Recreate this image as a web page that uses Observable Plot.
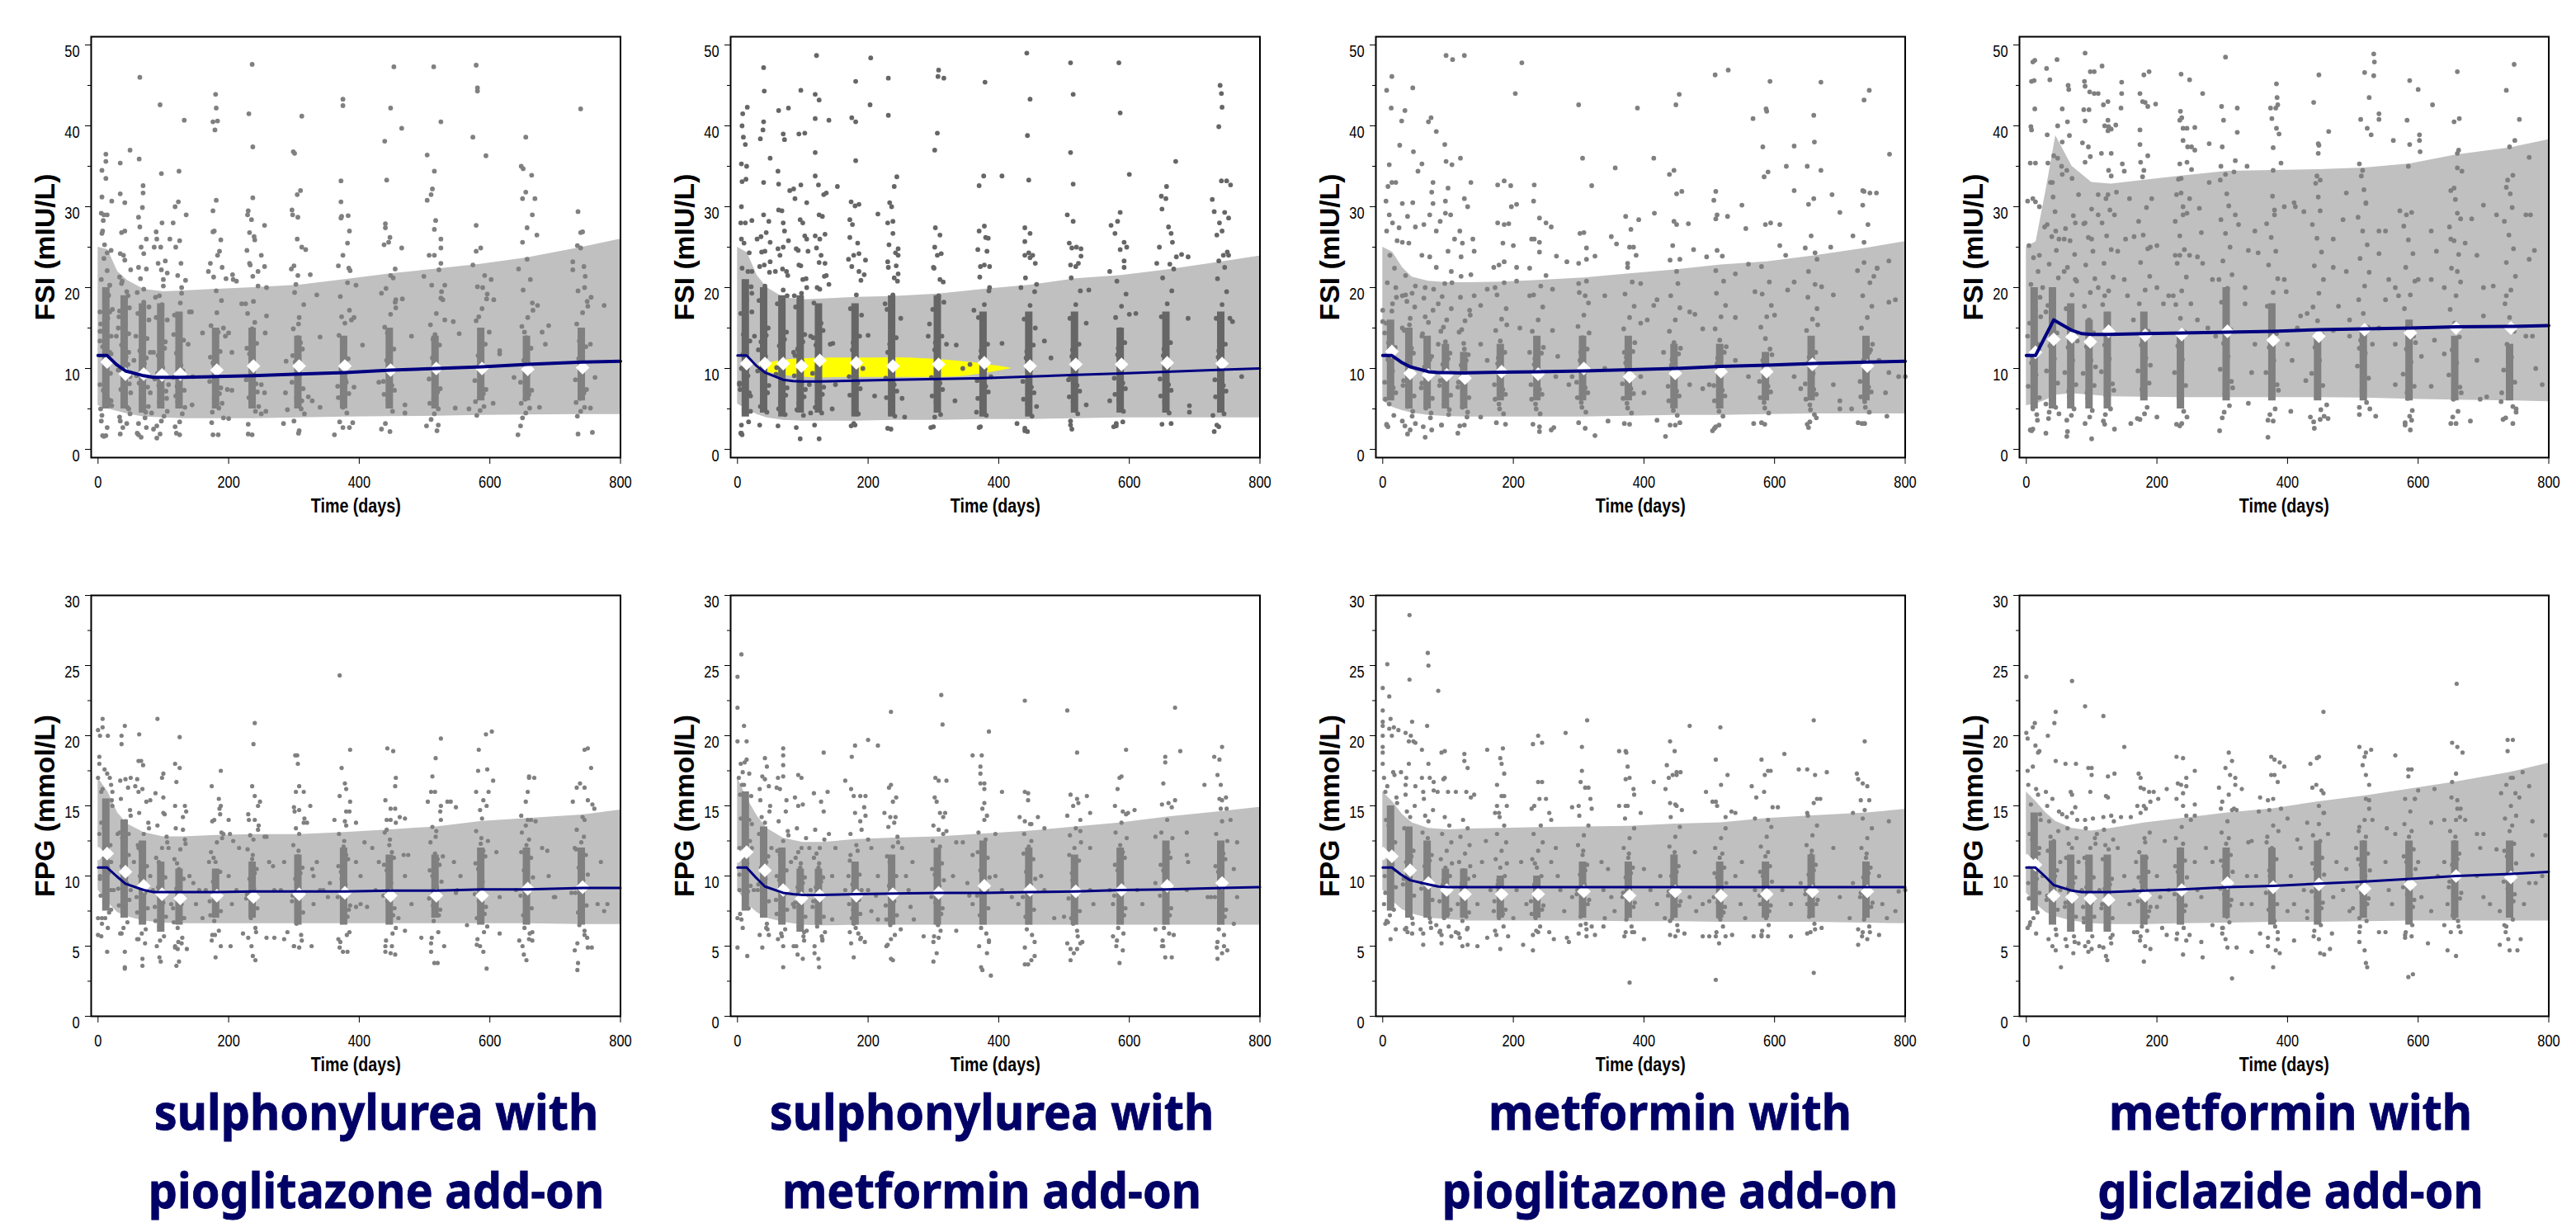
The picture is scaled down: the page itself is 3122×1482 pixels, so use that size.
<!doctype html>
<html><head><meta charset="utf-8">
<script src="https://cdn.jsdelivr.net/npm/d3@7"></script>
<script src="https://cdn.jsdelivr.net/npm/@observablehq/plot@0.6"></script>
<style>
html,body{margin:0;background:#fff;width:3122px;height:1482px;overflow:hidden}
#c{position:relative;width:3122px;height:1482px}
#c svg{position:absolute;overflow:visible}
.t{position:absolute;font:700 60px "Noto Sans";color:#000066;-webkit-text-stroke:.8px #000066;transform:translateX(-50%) scaleX(.93);white-space:nowrap;line-height:1}
</style></head><body><div id="c"></div>
<script>
const xTicks=[0,200,400,600,800];
const visits=[14,42,70,98,126,182,238,308,378,448,518,588,658,742];
const visitsBase=[1,14,42,70,98,126,182,238,308,378,448,518,588,658,742];
const bandX=[0,15,30,45,70,100,130,182,238,308,378,448,518,588,658,742,800];
const lineX=[0,14,28,42,70,85,100,126,182,238,308,378,448,518,588,658,742,800];
const spreadDays=[-6,5,-2,8,-9,3,-4,7,0,-7,2,9,-5,6,-1,-8,4,1,-3,10];
const titles=[["sulphonylurea with","pioglitazone add-on",456],["sulphonylurea with","metformin add-on",1202],["metformin with","pioglitazone add-on",2024],["metformin with","gliclazide add-on",2776]];

const fsi1Up=[25,24.7,22,20.9,19.8,19.5,19.6,19.8,20,20.3,21,21.7,22.3,22.9,23.7,25,26];
const fsi1Lo=[5.4,5,4.7,4.4,4,3.9,3.8,3.8,3.8,3.9,4,4.05,4.1,4.2,4.25,4.3,4.3];
const fsi2Up=[25,24.3,21.5,20,18.8,18.5,18.6,18.8,18.9,19.2,19.8,20.3,21.1,21.5,22.2,23.2,23.9];
const fsi2Lo=[5.6,4.9,4.3,3.9,3.6,3.5,3.5,3.5,3.6,3.6,3.7,3.7,3.8,3.9,3.9,3.9,3.9];
const fsi3Up=[25,24.4,22.5,21.3,20.8,20.6,20.6,20.7,20.9,21.2,21.7,22.2,22.8,23.2,23.9,24.9,25.7];
const fsi3Lo=[6,5.2,4.8,4.5,4.2,4.05,4,4,4,4,4.1,4.2,4.2,4.3,4.4,4.4,4.4];
const fsi4Up=[25,25.7,32,38.8,35,33,32.8,33.3,33.8,34.4,34.5,34.6,34.8,35.3,36.4,37.3,38.3];
const fsi4Lo=[5.4,5.6,6.1,6.7,6.9,6.7,6.5,6.45,6.4,6.4,6.4,6.4,6.35,6.2,6.1,6,5.9];
const fpg1Up=[17,16,14.5,13.7,13.1,12.8,12.8,12.9,12.95,12.95,13.1,13.3,13.5,13.9,14.1,14.35,14.7];
const fpg1Lo=[9,8.1,7.4,7.1,6.8,6.65,6.6,6.6,6.6,6.6,6.6,6.6,6.6,6.6,6.6,6.55,6.55];
const fpg2Up=[17,15.5,14.3,13.4,12.7,12.4,12.4,12.6,12.7,12.8,13,13.2,13.5,13.8,14.2,14.6,14.9];
const fpg2Lo=[9,8,7.4,7,6.7,6.5,6.45,6.5,6.5,6.5,6.5,6.5,6.5,6.5,6.5,6.5,6.5];
const fpg3Up=[16,15.3,14.4,13.8,13.4,13.3,13.35,13.4,13.45,13.5,13.55,13.7,13.8,14.1,14.3,14.5,14.75];
const fpg3Lo=[9,8.2,7.6,7.3,7,6.9,6.8,6.8,6.8,6.8,6.75,6.75,6.7,6.7,6.7,6.65,6.6];
const fpg4Up=[16,15.3,14.5,13.9,13.4,13.2,13.4,13.8,14.1,14.5,14.8,15.3,15.7,16.2,16.7,17.4,18.05];
const fpg4Lo=[8.8,8,7.4,7.1,6.8,6.6,6.55,6.55,6.6,6.65,6.7,6.7,6.75,6.8,6.8,6.8,6.8];

const fsi1Line=[11.6,11.6,10.5,9.7,9.1,8.9,8.9,8.9,9,9.1,9.3,9.5,9.8,10,10.2,10.5,10.8,10.9];
const fsi2Line=[11.6,11.6,10.4,9.5,8.6,8.45,8.4,8.4,8.5,8.6,8.7,8.8,9,9.2,9.4,9.6,9.85,10];
const fsi3Line=[11.6,11.6,10.8,10.2,9.6,9.5,9.5,9.45,9.55,9.6,9.7,9.85,10,10.25,10.4,10.6,10.8,10.9];
const fsi4Line=[11.6,11.6,13.8,16,14.7,14.3,14.2,14.2,14.3,14.4,14.5,14.6,14.8,14.9,15,15.15,15.2,15.3];
const fpg1Line=[10.6,10.6,10,9.45,9,8.85,8.85,8.85,8.85,8.9,8.9,8.9,8.95,8.95,9.05,9.05,9.15,9.15];
const fpg2Line=[10.6,10.6,9.9,9.25,8.8,8.7,8.65,8.65,8.7,8.75,8.8,8.8,8.85,8.9,9,9.05,9.15,9.2];
const fpg3Line=[10.6,10.6,10.1,9.7,9.4,9.25,9.2,9.2,9.2,9.2,9.2,9.2,9.2,9.2,9.2,9.2,9.2,9.2];
const fpg4Line=[10.6,10.6,10,9.35,8.95,8.85,8.85,8.85,8.95,9.05,9.2,9.3,9.45,9.6,9.8,10,10.15,10.3];

const fsi1Mean=[10.8,9.3,9.3,9.2,9.3,9.8,10.3,10.3,10.3,9.8,10,10,9.9,10.1];
const fsi2Mean=[10.6,10.6,10.6,10.3,11,10.7,10.3,10.5,10.7,10.3,10.5,10.5,10.7,10.6];
const fsi3Mean=[12.1,9.4,9.2,9.2,8.8,9.6,9.3,10,9,9.4,9.6,9.6,10.5,10.3];
const fsi4Mean=[12,13.6,13.9,13.3,14.6,14.1,14.2,14.6,13.5,14,14.8,14.4,15,15];
const fpg1Mean=[11.6,11.6,10.3,9.3,8.7,8.4,8.6,8.5,8.7,8.8,8.6,8.6,8.6,9.1,9.2];
const fpg2Mean=[11.4,11.7,10.4,9,8.4,8.6,8.6,8.7,8.8,9.3,9,8.9,9,9.3,9.5];
const fpg3Mean=[11.6,11.4,10.4,9.5,9,8.7,8.7,8.7,8.9,8.6,8.9,8.6,8.7,8.9,8.9];
const fpg4Mean=[11.1,10.8,8.6,8.5,8.4,8.3,8.6,9,9.5,9.2,9.4,9.1,9.4,10,9.9];

const fsi1Core=[[5,20],[5,19],[4.5,18],[5,18],[5,17],[5,15],[5,15],[5,14],[5,14],[5,15],[5,14],[6,15],[6,14],[6,15]];
const fsi2Core=[[4,21],[4.5,20],[4,19],[4.5,19],[4.5,18],[4,18],[4,19],[4.5,19],[4,17],[4,17],[4.5,17],[4.5,15],[4.5,17],[4.5,17]];
const fsi3Core=[[6,16],[5,15],[5,14],[5,13],[5,12],[6,13],[6,14],[6,14],[6,14],[5,13],[5,13],[6,12],[6,14],[6,14]];
const fsi4Core=[[5,20],[5,20],[5,18],[5,16],[5,17],[6,17],[5,14],[6,20],[6,18],[6,14],[6,15],[6,16],[6,14],[6,13]];
const fpg1Core=[[7.5,15.5],[7,14],[6.5,12.5],[6,11],[6.5,10.5],[7,10.5],[7,11],[6.5,11.5],[6.5,12],[6.5,11.5],[7,11.5],[6.5,12],[6.5,12],[6.5,12]];
const fpg2Core=[[7.5,16],[7,13.5],[6.5,12],[6,10.5],[6.5,10.5],[6.5,11],[6.5,11.5],[6.5,12],[6.5,12.5],[6.5,12],[6.5,11.5],[6.5,12],[6.5,12.5],[6.5,12.5]];
const fpg3Core=[[7.5,15],[7,13.5],[7,12.5],[7,10.5],[7,10.5],[7,10],[7,10],[7,11],[7,11],[7,11.5],[7,11],[7,11],[7,11.5],[7,11]];
const fpg4Core=[[7.5,14.5],[6.5,12.5],[6,11.5],[6,11.5],[6,11.5],[6.5,11.5],[6.5,12],[7,12],[6.5,12],[6.5,12.5],[7,12.5],[6.5,12.5],[7,12.5],[7,12.5]];

const fsi1Dense=[
[4.2,6.1,8.3,11.8,13.4,16.2,7.3,9.4,18.5,14.6,22.1,5.4,12.7,20.3,10.2,15.5,19.1,6.8,23.6,17.3],
[3.5,5.2,6.6,8.1,9.8,11.4,12.9,14.3,15.8,17.1,18.6,4.4,7.4,10.5,13.1,16.4,19.5,6.2,20.8,22.2],
[3.2,4.6,6.3,7.7,9.1,10.6,12.2,13.7,15.2,16.8,18.2,5.3,8.2,11.3,14.6,19.4,3.9,6.9,21.1,17.6],
[2.9,4.1,5.8,7.2,8.7,10.1,11.6,13.3,14.7,16.3,17.9,6.3,9.4,12.5,15.6,18.8,20.2,3.5,7.9,21.8],
[2.8,4.4,5.9,7.3,8.9,10.4,11.9,13.5,15.1,16.6,18.1,5.2,6.6,9.7,12.8,14.2,19.3,3.4,7.8,20.9],
[3.3,5.1,6.3,7.6,8.4,9.3,10.7,12.1,13.6,15.3,16.9,18.4,4.6,6.9,8,11.4,14.5,19.6,21.3,5.7],
[3.1,4.7,5.9,7.1,8.6,10.1,11.8,13.1,14.9,16.8,18.3,20.2,6.4,8.1,9.4,12.5,15.7,21.4,22.8,5.3],
[3.5,5,6.4,7.5,8.3,9.2,10.8,12.4,13.8,14.9,16.3,17.9,19.4,6,7.1,11.6,13.2,15.5,20.4,4.4],
[3.4,4.5,5.8,6.9,7.8,8.6,9.9,11.2,12.7,14.1,15.6,17.2,18.9,20.6,5.2,6.4,8.3,13.3,16.4,22.1],
[3.2,4.7,6.1,7.3,8.4,9.5,11,12.4,13.7,15.1,16.7,18.2,19.9,21.2,5.4,6.8,7.9,10.3,14.4,17.5],
[3.7,5,6.2,7.5,8.7,9.8,11.3,12.9,14.2,15.4,16.8,18.7,20.3,22.2,4.4,5.7,7.1,10.6,13.6,19.5],
[4.2,5.3,6.4,7.4,8.5,9.9,11.6,13,14.4,15.9,17.4,18.6,20.1,21.5,4.8,5.9,6.9,12.2,16.4,19.2],
[3.9,5.1,6.2,7.3,8.3,9.4,11,12.5,13.8,15.2,16.3,18.1,19.7,21,4.5,5.7,6.8,10.2,14.5,17.2],
[4.1,5.2,6.3,7.4,8.6,9.8,11.2,12.7,14.1,15.5,16.9,18.3,19.6,21.4,4.7,5.8,7,10.5,13.4,17.7]];
const fsi2Dense=[
[2,3.4,4.9,6.6,8.2,10,11.7,13.4,15,16.8,18.5,20.1,22.4,24.3,5.6,7.4,9.1,12.5,14.2,19.3],
[3,4.6,6.2,7.9,9.7,11.5,13.3,15,16.7,18.4,20.2,21.9,5.3,7,8.8,12.3,14.1,22.8,24.4,25.6],
[2.9,4.3,5.9,7.6,9.3,11,12.8,14.5,16.3,18,19.7,21.5,5,6.7,8.5,10.1,13.6,22.3,24,25.8],
[2.7,4.2,5.7,7.4,9.1,10.8,12.4,14.2,15.9,17.6,19.3,21.1,4.9,6.5,8.2,11.6,13.3,22.7,24.6,26],
[3,4.5,6,7.7,9.4,11.1,12.9,14.7,16.4,18.1,19.8,21.4,5.2,6.8,8.6,13.8,15.6,23.1,24.9,26.6],
[2.9,4.4,5.9,7.5,9,10.6,12.3,14,15.7,17.4,19.1,20.9,22.6,24.2,5.1,6.7,8.2,11.5,13.2,16.6],
[2.6,4.1,5.6,7.2,8.8,10.4,12,13.8,15.6,17.3,19.1,20.8,22.5,24.3,4.9,6.4,8,11.2,13,21.7],
[2.8,4.3,5.9,7.4,8.9,10.6,12.3,14,15.7,17.3,19,20.7,22.4,24.2,5,6.6,8.2,11.5,13.2,18.2],
[2.7,4.2,5.7,7.1,8.5,9.9,11.4,13,14.6,16.3,17.9,19.6,21.3,24.5,4.9,6.3,7.8,10.7,12.2,22.6],
[2.6,4.1,5.6,7,8.4,9.8,11.3,12.9,14.5,16.1,17.8,19.5,21.2,24,4.8,6.2,7.7,10.6,12.1,23],
[3,4.4,5.9,7.2,8.6,10,11.5,13,14.6,16.2,17.9,19.6,21.2,23,5.1,6.5,7.9,10.8,12.3,24.8],
[3.2,4.7,6.1,7.5,8.8,10.2,11.7,13.2,14.8,16.3,17.7,19.2,20.8,23.3,5.4,6.8,8.2,11,12.5,25],
[3.1,4.5,5.9,7.3,8.7,10.1,11.6,13.2,14.8,16.4,18,19.6,21.2,22.9,5.2,6.6,8,10.9,12.4,25.6],
[3,4.4,5.8,7.2,8.6,10,11.4,13,14.6,16.2,17.9,19.5,21.1,22.5,5.1,6.5,7.9,10.7,12.2,24.4]];
const fsi3Dense=[
[3.1,4.2,5.6,7,8.3,9.7,11.1,12.6,14,15.6,17.1,18.8,20.6,22.4,24,6.2,7.6,10.4,13.2,25.8],
[2.9,4.1,5.3,6.6,7.9,9.1,10.5,11.9,13.3,14.7,16.2,17.6,19.1,4.7,6,8.5,12.5,15.4,18.3,20.2],
[2.8,3.9,5.1,6.3,7.6,8.9,10.2,11.5,12.9,14.3,15.7,17.2,18.7,4.5,5.7,8.2,11.1,13.6,16.4,19.8],
[3,4.3,5.5,6.7,7.9,9.2,10.5,11.9,13.3,14.6,16,17.4,18.9,4.9,6.1,8.5,11.2,12.6,15.1,20.6],
[2.9,4,5.2,6.4,7.7,9,10.4,11.7,13.1,14.5,15.9,17.2,18.8,4.6,5.8,8.3,11,12.4,14.8,16.6],
[3.3,4.4,5.6,6.8,8,9.3,10.6,12,13.4,14.7,16.1,17.4,19.1,20.6,5,6.2,7.4,8.7,11.3,15.4],
[3.1,4.4,5.6,6.8,8,9.2,10.5,11.9,13.3,14.6,16,17.6,19.1,20.2,5,6.2,7.4,8.6,11.2,12.6],
[3.3,4.6,5.8,7,8.3,9.6,11,12.4,13.8,15.2,16.6,18.1,19.4,20.8,5.2,6.4,7.6,8.9,12,14.4],
[3.2,4.5,5.7,6.9,8.1,9.4,10.7,12.1,13.5,14.9,16.3,17.7,19.2,20.7,5.1,6.3,7.5,8.7,11.4,13.2],
[3,4.2,5.4,6.6,7.8,9,10.4,11.8,13.2,14.6,16,17.5,19,20.5,4.8,6,7.2,8.4,11.1,12.5],
[2.8,4.1,5.3,6.6,7.9,9.2,10.6,12,13.5,14.9,16.4,17.8,19.3,20.8,4.7,6,7.3,8.6,11.3,12.7],
[3.3,4.5,5.8,7.1,8.4,9.7,11,12.4,13.7,15.1,16.4,17.8,19.2,20.7,5.1,6.4,7.8,9,10.3,11.7],
[3.1,4.3,5.5,6.8,8.1,9.4,10.7,12,13.4,14.7,16.1,17.4,18.8,20.4,4.9,6.2,7.4,8.7,11.4,15.4],
[3.2,4.6,5.9,7.1,8.4,9.7,11,12.3,13.6,15,16.3,17.7,19,20.6,5.2,6.5,7.7,9,10.4,13]];
const fsi4Dense=[
[2.4,3.6,5,6.4,7.8,9.2,10.7,12.3,14,15.6,17.2,18.8,20.4,22,23.7,25.2,4.3,8.5,11.5,16.4],
[3.8,5.2,6.7,8.2,9.7,11.2,12.8,14.4,16.1,17.8,19.5,21.2,22.9,24.6,26.3,27.8,29.4,31.2,33,4.4],
[3.6,5,6.5,8,9.5,11,12.6,14.2,15.8,17.4,19.1,20.8,22.5,24.1,25.8,27.3,28.9,4.2,7.2,13.4],
[3.2,4.8,6.3,7.9,9.4,11,12.7,14.4,16,17.7,19.4,21.1,22.8,24.5,26.2,27.9,29.7,4,7,10.2],
[3.5,5,6.6,8.1,9.6,11.2,12.9,14.5,16.2,17.9,19.6,21.3,23,24.7,26.4,28,29.6,31.5,4.3,7.3],
[3.7,5.2,6.7,8.2,9.7,11.3,12.9,14.6,16.3,18,19.7,21.4,23.1,24.8,26.5,28.2,29.9,4.4,7.4,10.4],
[3.1,4.7,6.3,7.9,9.5,11.1,12.8,14.5,16.2,17.9,19.6,21.3,23,24.7,26.4,28.2,30,31.7,33.4,4],
[3.9,5.4,6.9,8.4,9.9,11.5,13.1,14.8,16.5,18.2,19.9,21.6,23.3,25,26.7,28.4,30.1,31.6,4.6,7.6],
[3.6,5,6.5,8,9.5,11,12.6,14.3,16,17.7,19.4,21.1,22.8,24.5,26.2,27.9,29.6,31.3,4.3,7.3],
[3.4,4.9,6.4,7.9,9.4,11,12.6,14.2,15.9,17.6,19.3,21,22.7,24.4,26.1,27.8,29.5,31.2,32.9,4.1],
[4.3,5.8,7.3,8.8,10.3,11.9,13.5,15.1,16.8,18.5,20.2,21.9,23.6,25.3,27,28.7,30.4,32.1,33.8,5],
[3.3,4.8,6.3,7.8,9.3,10.8,12.4,14,15.7,17.4,19.1,20.8,22.5,24.2,25.9,27.6,29.3,4.1,7,13.2],
[3.2,4.7,6.2,7.7,9.2,10.7,12.3,13.9,15.6,17.3,19,20.7,22.4,24.1,25.8,27.5,29.2,30.9,4,7],
[3.9,5.3,6.8,8.3,9.8,11.4,13,14.6,16.3,18,19.7,21.4,23.1,24.8,26.5,28.2,29.9,31.6,33.3,4.6]];
const fpg1Dense=[
[6.6,7.4,8.2,9,9.8,10.6,11.4,12.2,13,13.8,14.6,15.4,16.2,17,7,8.6,10.2,11.8,13.4,15],
[5.9,6.7,7.5,8.3,9.1,9.9,10.7,11.5,12.3,13.1,13.9,14.7,15.5,16.3,6.3,7.9,9.5,11.1,12.7,14.3],
[5.5,6.2,7,7.7,8.5,9.2,10,10.7,11.5,12.2,13,13.8,14.5,15.3,5.9,7.4,8.8,10.4,11.8,13.4],
[5,5.7,6.4,7.1,7.8,8.5,9.2,9.9,10.6,11.3,12,12.8,13.6,14.4,5.4,6.8,8.1,9.6,11,12.4],
[4.9,5.6,6.3,7,7.7,8.4,9.1,9.8,10.5,11.2,11.9,12.6,13.4,14.2,5.3,6.7,8,9.5,10.9,12.3],
[5.4,6.1,6.8,7.5,8.2,8.9,9.6,10.3,11,11.7,12.4,13.1,13.9,14.8,5.8,7.2,8.5,10,11.3,12.7],
[5.6,6.3,7,7.7,8.4,9.1,9.8,10.5,11.2,11.9,12.6,13.3,14,6,7.4,8.7,10.2,11.5,12.9,13.6],
[5,5.8,6.6,7.4,8.2,9,9.8,10.6,11.4,12.2,13,13.8,14.6,5.4,7,8.6,10.2,11.8,13.4,14.1],
[4.9,5.8,6.7,7.6,8.5,9.4,10.3,11.2,12.1,13,13.9,14.6,5.3,7.1,8.9,10.7,11.5,12.5,9.8,7.9],
[5,5.9,6.8,7.7,8.6,9.5,10.4,11.3,12.2,13.1,14,14.8,5.4,7.2,9,10.8,11.7,12.6,8.2,6.3],
[5.2,6,6.8,7.6,8.4,9.2,10,10.8,11.6,12.4,13.2,14,5.6,7.2,8.8,10.4,11.2,12.8,7.9,9.6],
[5.1,6,6.9,7.8,8.7,9.6,10.5,11.4,12.3,13.2,14.1,15,5.5,7.3,9.1,10.9,11.8,12.7,8.2,6.4],
[5,5.9,6.8,7.7,8.6,9.5,10.4,11.3,12.2,13.1,14,5.4,7.2,9,10.8,11.7,12.6,8.1,6.3,9.9],
[5.2,6.1,7,7.9,8.8,9.7,10.6,11.5,12.4,13.3,14.2,5.6,7.4,9.2,11,11.9,12.8,8.3,6.5,10.1]];
const fpg2Dense=[
[6.9,7.7,8.5,9.3,10.1,10.9,11.7,12.5,13.3,14.1,14.9,15.7,16.5,17.3,18.1,7.3,8.9,10.5,12.1,13.7],
[5.8,6.6,7.4,8.2,9,9.8,10.6,11.4,12.2,13,13.8,14.6,15.4,6.2,7.8,9.4,11,12.6,14.2,15],
[5.5,6.2,6.9,7.6,8.3,9,9.7,10.4,11.1,11.8,12.5,13.2,13.9,14.6,5.9,7.3,8.7,10.1,11.5,12.9],
[5,5.7,6.4,7.1,7.8,8.5,9.2,9.9,10.6,11.3,12,12.7,13.4,5.4,6.8,8.1,9.5,10.9,11.7,6.1],
[5,5.7,6.4,7.1,7.8,8.5,9.2,9.9,10.6,11.3,12,12.6,13.3,5.4,6.8,8.2,9.6,10.9,11.6,6],
[5.2,5.9,6.6,7.3,8,8.7,9.4,10.1,10.8,11.5,12.2,5.6,7,8.3,9.7,11.1,11.8,6.3,7.6,9],
[5.1,5.8,6.5,7.2,7.9,8.6,9.3,10,10.7,11.4,12.1,12.8,13.5,14.2,5.5,6.9,8.2,9.6,11,12.4],
[5.3,6.1,6.9,7.7,8.5,9.3,10.1,10.9,11.7,12.5,13.3,14.2,5.7,7.3,8.9,10.5,12.1,6.5,8.1,9.7],
[5,5.9,6.8,7.7,8.6,9.5,10.4,11.3,12.2,13.1,14,5.4,7.2,9,10.8,11.7,12.6,8.1,6.3,9.9],
[4.9,5.8,6.7,7.6,8.5,9.4,10.3,11.2,12.1,13,13.7,5.3,7.1,8.9,10.7,11.6,12.5,8,6.2,9.8],
[4.8,5.7,6.6,7.5,8.4,9.3,10.2,11.1,12,12.9,13.4,5.2,7,8.8,10.6,11.5,6.1,7.9,9.7,12.4],
[5,5.9,6.8,7.7,8.6,9.5,10.4,11.3,12.2,13.1,13.8,14.4,5.4,7.2,9,10.8,11.7,8.1,6.3,12.7],
[5,5.9,6.8,7.7,8.6,9.5,10.4,11.3,12.2,13.1,14,14.9,5.4,7.2,9,10.8,11.7,8.1,6.3,12.7],
[4.9,5.8,6.7,7.6,8.5,9.4,10.3,11.2,12.1,13,13.9,14.8,5.3,7.1,8.9,10.7,11.6,8,6.2,12.5]];
const fpg3Dense=[
[6.8,7.6,8.4,9.2,10,10.8,11.6,12.4,13.2,14,14.8,15.6,16.4,17.2,7.2,8.8,10.4,12,13.6,15.2],
[6.2,7,7.8,8.6,9.4,10.2,11,11.8,12.6,13.4,14.2,15,15.8,6.6,8.2,9.8,11.4,13,14.6,16.4],
[5.9,6.7,7.5,8.3,9.1,9.9,10.7,11.5,12.3,13.1,13.9,14.7,15.5,6.3,7.9,9.5,11.1,12.7,14.3,16.1],
[5.8,6.4,7,7.6,8.2,8.8,9.4,10,10.6,11.2,11.8,12.4,13,13.6,14.2,6.1,7.3,8.5,9.7,10.9],
[5.6,6.2,6.8,7.4,8,8.6,9.2,9.8,10.4,11,11.6,12.2,12.8,13.4,14,5.9,7.1,8.3,9.5,10.7],
[5.8,6.4,7,7.6,8.2,8.8,9.4,10,10.6,11.2,11.8,12.4,13,13.6,14.2,6.1,7.3,8.5,9.7,10.9],
[5.8,6.4,7,7.6,8.2,8.8,9.4,10,10.6,11.2,11.8,12.4,13,13.6,6.1,7.3,8.5,9.7,10.9,7.9],
[5.9,6.6,7.3,8,8.7,9.4,10.1,10.8,11.5,12.2,12.9,13.6,14.3,6.2,7.6,9,10.4,11.8,7.1,8.3],
[5.7,6.4,7.1,7.8,8.5,9.2,9.9,10.6,11.3,12,12.7,13.4,14.1,6,7.4,8.8,10.2,11.6,6.9,8.1],
[5.8,6.5,7.2,7.9,8.6,9.3,10,10.7,11.4,12.1,12.8,13.5,14.2,6.1,7.5,8.9,10.3,11.7,7,8.2],
[5.7,6.4,7.1,7.8,8.5,9.2,9.9,10.6,11.3,12,12.7,13.4,6,7.4,8.8,10.2,11.6,6.9,8.1,9.5],
[5.8,6.5,7.2,7.9,8.6,9.3,10,10.7,11.4,12.1,12.8,13.5,6.1,7.5,8.9,10.3,11.7,7,8.2,9.6],
[5.9,6.6,7.3,8,8.7,9.4,10.1,10.8,11.5,12.2,12.9,13.6,14.3,6.2,7.6,9,10.4,11.8,7.1,8.3],
[5.7,6.4,7.1,7.8,8.5,9.2,9.9,10.6,11.3,12,12.7,13.4,14.1,6,7.4,8.8,10.2,11.6,6.9,8.1]];
const fpg4Dense=[
[6.7,7.4,8.1,8.8,9.5,10.2,10.9,11.6,12.3,13,13.7,14.4,15.1,15.8,7,8.4,9.8,11.2,12.6,14],
[5.5,6.2,6.9,7.6,8.3,9,9.7,10.4,11.1,11.8,12.5,13.2,13.9,5.8,7.2,8.6,10,11.4,12.8,14.6],
[5,5.7,6.4,7.1,7.8,8.5,9.2,9.9,10.6,11.3,12,12.7,13.4,5.3,6.7,8.1,9.5,10.9,12.3,14],
[5,5.7,6.4,7.1,7.8,8.5,9.2,9.9,10.6,11.3,12,12.7,13.4,14.1,5.3,6.7,8.1,9.5,10.9,12.3],
[4.9,5.6,6.3,7,7.7,8.4,9.1,9.8,10.5,11.2,11.9,12.6,13.3,5.2,6.6,8,9.4,10.8,12.2,13.9],
[5.4,6.1,6.8,7.5,8.2,8.9,9.6,10.3,11,11.7,12.4,13.1,5.7,7.1,8.5,9.9,11.3,12.7,6.4,7.8],
[5.5,6.3,7.1,7.9,8.7,9.5,10.3,11.1,11.9,12.7,13.5,14.3,5.9,7.5,9.1,10.7,12.3,6.7,8.3,9.9],
[5.9,6.7,7.5,8.3,9.1,9.9,10.7,11.5,12.3,13.1,13.9,14.7,6.3,7.9,9.5,11.1,12.7,7.1,8.7,10.3],
[5.6,6.4,7.2,8,8.8,9.6,10.4,11.2,12,12.8,13.6,6,7.6,9.2,10.8,12.4,6.8,8.4,10,13.2],
[5.7,6.5,7.3,8.1,8.9,9.7,10.5,11.3,12.1,12.9,13.7,14.5,6.1,7.7,9.3,10.9,12.5,6.9,8.5,10.1],
[6,6.8,7.6,8.4,9.2,10,10.8,11.6,12.4,13.2,14,14.8,6.4,8,9.6,11.2,12.8,7.2,8.8,10.4],
[5.6,6.5,7.4,8.3,9.2,10.1,11,11.9,12.8,13.7,14.6,15.5,6,7.8,9.6,11.4,13.2,6.9,8.7,10.5],
[6,6.8,7.6,8.4,9.2,10,10.8,11.6,12.4,13.2,14,14.8,15.6,6.4,8,9.6,11.2,12.8,7.2,8.8],
[6,6.9,7.8,8.7,9.6,10.5,11.4,12.3,13.2,14.1,15,15.9,6.4,8.2,10,11.8,13.6,7.3,9.1,10.9]];

const yellowX=[30,60,100,180,260,340,400,420];
const yellowHi=[10.3,10.9,11.2,11.3,11.3,10.9,10.3,10];
const yellowLo=[9.9,9.3,8.9,8.9,8.9,9,9.7,10];

const fsi1Dots=[64,46,236,47.6,453,47.3,514,47.3,579,47.5,581,44.7,581,44.3,180,43.9,181,42.2,183,40.6,176,40.5,179,39.5,95,42.6,132,40.7,231,41.5,312,41.2,375,43.3,375,42.5,448,42.2,465,39.7,439,38.1,525,40.5,574,38.6,655,38.6,739,42.1,237,37.4,12,36.5,12,35.6,6,34.5,12,33.5,49,37,34,35.4,63,35.9,97,34.1,124,34.4,299,36.8,301,36.6,504,36.4,594,36.3,372,33.2,442,33.3,515,34.4,648,35,651,34.7,664,33.9,655,31.8,512,32.2,510,31.5,504,30.8,650,31,669,31,310,32,305,31.5,237,31.1,181,30.8,6,31.2,21,30.7,69,32.6,69,31.7,34,31.6,41,30.5,68,29.9,123,30.6,118,30,372,30.6,
3,14.6,5,21,6,26.7,7,27,8,28.3,5,29.2,9,29,14,29,10,25.3,14,24.3,20,24.6,18,20.3,3,17,16,19,18,17,3,8,4,5,5,3.5,7,1.7,9,1.6,12,1.7,14,2.7,17,5.5,20,6,18,12,20,14,
33,21.3,36,20.5,34,24.2,36,26.8,41,27,39,24,41,23.4,31,15,28,14,46,19,48,17.5,47,12,49,9,50,7,33,4,34,1.9,38,2.7,44,3.2,47,5,
62,28.7,64,27.5,66,25,70,24.2,74,26,62,22.5,74,22.3,70,19.8,58,14,55,11,78,16,80,12,80,7,82,4.5,60,2,62,1.8,66,1.5,74,2.7,
89,26.9,90,26,96,25,98,28,86,25,92,23,97,22.2,103,23.3,100,21,94,19,85,12,106,16,108,8,106,4.7,90,1.4,95,1.9,85,2.5,
110,26,115,28,125,25.8,119,25,127,23,122,21.5,128,20,135,29,140,17,143,17,138,13,145,9,144,5.5,125,1.8,120,2,
169,22,172,23,178,27,176,26.9,186,24.5,188,25.9,190,22.5,196,21.1,206,21.6,207,21,212,20.8,176,29.5,183,24,192,15,195,14,200,14.4,160,14.4,205,12,205,7.3,198,7.4,200,3.8,176,1.8,184,1.8,192,3.9,
229,29,230,29.5,235,28.4,232,26.8,240,25.9,239,26.3,228,24.6,232,23,245,22,250,24,255,22.6,255,27.7,258,20,258,16.5,256,14.4,226,18,220,18,250,8,255,7,250,4.4,257,4.7,230,1.9,236,1.8,
297,29.6,298,29,306,28.7,305,26,312,25,318,24.7,296,22.3,300,22.7,306,21.5,325,21.6,335,19.1,288,10.9,287,7,284,3.2,290,4.9,328,6,322,6.5,340,5.2,340,13.9,308,2.3,307,2,
372,28.6,373,28.8,383,28.9,385,27,382,25.5,368,22.7,384,22.4,375,24,395,20.3,392,16.3,405,12.9,388,16,392,7.7,390,3.3,375,2.7,385,2.7,362,1.8,
440,27.9,440,27.4,438,25.3,445,25.6,447,26.2,465,24.9,455,22.3,448,21.5,434,19.3,466,18.6,456,18.5,480,14,430,8.3,470,4.5,470,5.5,434,2.5,447,2.2,
517,28.3,515,27.2,525,26,525,24.9,515,24,507,24,525,23,499,21.4,531,20.3,528,18.5,531,16,544,15.8,553,14.3,547,5.1,521,3,503,2.9,519,2.3,
579,27.7,579,24.5,586,24.9,574,22.8,602,21,606,18.5,589,20,599,14.5,615,12.2,615,11.8,568,5,605,5.7,
650,25.6,657,27.4,665,29,672,26.5,657,23.5,644,22.3,673,17.8,690,15.3,680,14.5,685,13,676,5.2,643,1.8,647,2.9,637,8.9,
735,29.4,739,26.8,742,26.9,734,25.2,739,24.9,727,23.2,744,22.6,727,22.2,745,20,755,18.8,775,17.8,754,13,761,8.9,754,5.1,735,1.9,757,2.1];

const fsi2Dots=[121,48.7,204,48.4,40,47.2,443,49,510,47.8,584,47.8,308,46.9,307,46.1,316,45.9,231,45.9,181,45.5,379,45.4,739,45,741,44,41,44.3,97,44.4,119,43.9,125,43.2,448,43.3,514,43.9,203,42.6,15,42.3,63,41.9,78,42.2,742,42.3,586,41.6,8,41.5,231,41.3,119,40.9,175,41,181,40.5,140,40.7,40,40.5,7,40,737,39.9,39,39.5,35,38.4,9,38.6,70,39,94,39,103,39.1,72,38.3,306,39.1,444,38.8,12,37.7,302,37,119,36.7,510,36.7,50,36,181,35.7,671,35.6,6,35.3,14,35,600,34,377,33.8,405,33.8,62,34.4,119,33.8,244,33.7,446,33.3,741,33.2,749,33.2,755,32.7,514,32.8,7,33.1,13,33.4,40,33,63,32.8,97,32.7,657,32.5,370,32.6,240,32.5,153,32.5,124,32.7,
6,30,5,28,12,28,22,28.3,6,26,10,25.5,30,26,36,26.3,40,29,44,26.8,48,28.2,16,22,22,22,34,22.6,42,24.5,50,23.2,22,17,26,14,6,10,3,8,18,7,20,4.7,6,3,5,2,7,1.8,
63,29.6,68,29.5,70,28,72,27,62,24.8,70,25,58,22,75,22,76,19,80,32,86,32.2,88,31,96,28.4,100,28,103,26.4,106,30.5,90,24.8,94,22.8,100,21,106,20,108,24.5,87,19,86,12,112,14,110,8,112,4.5,96,1.3,
119,26.4,126,26,130,28.8,125,29,132,31.5,136,31.7,128,24,134,23,122,20,136,21.5,140,20.4,142,13,146,13.1,150,8,145,5,125,1.3,
174,30.6,180,30.1,186,30.3,172,28.4,176,27.8,172,26.2,184,25.5,178,24,170,23.5,196,23.4,194,21.6,186,22,192,10,180,3,200,14.1,210,6.6,178,3.2,
233,30.5,236,30,238,28.2,230,28,238,26.7,232,25.3,246,24,243,22.7,230,23.2,240,21.2,246,24.8,215,29.1,226,18,250,16.2,230,12,252,6.3,256,4,235,2.5,
303,27.4,310,26.5,302,25,306,24,300,22.5,310,21,294,15.5,292,14,320,13,335,12.9,333,6,345,10,302,4,296,2.7,
370,27,378,27.6,368,24.7,380,26.2,384,26.1,372,22.6,378,22.8,362,17.2,386,20,356,10.5,388,9,366,4.6,372,2.8,405,13.1,
440,27.4,448,26.7,440,25.7,446,24.3,440,24,448,23.7,458,20.4,434,20,456,15,470,13.4,480,11.3,458,5.3,428,3.2,440,2.3,444,2.2,
505,29,514,28.2,508,25.5,519,25,512,24.9,526,23.9,518,22.6,510,22.8,538,19.7,534,15.6,510,9,534,5.5,510,3.5,512,2.5,
572,27.7,582,28.2,586,29.3,578,26.7,592,25.6,586,24.7,592,22.5,570,22,600,16.7,610,16.8,570,6,580,2.9,576,2.8,590,3.4,
649,31.3,656,31,650,29.7,660,27.5,664,26.7,646,25,642,23,672,23.8,680,24.1,690,23.8,668,22.3,690,16.2,692,5.4,692,4.6,664,3.2,
727,30.9,730,29.4,746,29.3,738,28,752,28.6,734,26.5,742,27,744,24,752,24,737,23.3,754,16.2,758,15.8,772,9,728,4.2,730,2.2,737,2.8];

const fsi3Dots=[97,48.7,107,48.2,125,48.7,213,47.8,6,44.4,14,46.1,46,44.7,203,44,509,46.3,529,46.9,593,45.5,671,45.4,745,44.4,13,42.2,34,41.9,29,40.6,70,40.5,74,41,82,39.3,300,42.6,390,42.2,449,42.6,454,43.9,737,43.2,587,42.1,588,41.8,567,40.9,660,41.3,26,37.6,47,36.8,95,37.7,119,36,97,35.6,106,35.2,306,36,415,36,582,37.4,661,38,630,37.5,776,36.5,10,35.2,60,35.3,54,34.4,356,34.8,439,34,446,34.5,618,35,650,35,671,34.5,590,34.3,584,33.7,735,32,
125,31,135,33,100,32.3,77,33,176,32.7,186,33.2,196,32.6,232,32.7,320,32.6,75,31.8,8,32.5,14,33,20,33,450,31.6,458,31.9,510,31.9,630,32,737,31.9,746,31.7,756,31.7,5,30.7,30,30.4,46,30.5,77,30.4,96,30.7,130,30,231,30.7,205,30.3,197,30,688,31.5,652,30.3,660,31,507,30.8,550,30.2,735,30.2,
10,29,15,28,6,27,25,27.4,38,28.8,50,27.5,63,27.8,72,29,96,29.2,104,29,88,28.2,82,27,110,26,118,27,122,25.5,138,26,176,28,186,27.8,193,27.9,240,28.6,250,28,258,27.5,
228,26,232,26,240,25.6,184,25.5,200,25.2,302,26.7,308,26.8,312,24.9,380,27.2,372,28.8,378,25,384,25,392,28.4,416,29.2,350,26.3,358,25.4,
444,25.2,446,28.2,450,27.8,468,27.9,510,28.5,512,29,528,28.8,556,27.3,586,27.8,594,28,608,27.8,617,24,608,25.2,647,24.9,656,26.4,662,24.3,665,23.5,686,25,700,29.3,720,26.4,737,25.6,743,27.8,
30,25.6,40,25.5,60,24,72,23.8,100,24.5,120,23.8,120,21.4,140,24.5,178,22.8,186,23.2,240,24.4,266,23.9,282,23.2,300,23,312,23.5,325,23.9,
375,23,388,24,440,23.4,455,23.5,476,24.7,496,23.8,512,24.6,520,23.9,560,22.9,580,22.6,775,23.3,757,22.4,737,23.1,727,22.1,
35,21.5,82,22.5,105,22,135,21.6,170,22.5,205,22.5,225,22.4,250,21.5,375,22.5,395,20.5,450,22,510,22.1,540,21.7,652,22,
20,20,30,19,65,20,95,20.5,140,19,160,19.8,172,20,205,20.8,260,19.8,300,20.5,420,18.5,470,17,478,16.7,570,19.5,630,20.7,672,20.1,752,21.4,757,22.4,
15,18,45,19.3,85,18,150,17.8,225,19,260,14.7,310,19,340,19,415,17.8,405,16,395,15.6,490,14.9,540,16.3,600,16.6,620,19.7,690,19.1,775,18.2,785,18.5,
0,17.2,0,15.8,3,14.4,30,15,60,14,85,13,150,13,160,11,210,15,225,12,268,11.5,265,9,290,9,285,8,340,10,370,12,395,9,400,7,430,12,470,8,490,7.5,500,8,540,11,560,9,630,9,640,7.5,690,8,700,6,745,12,760,11,770,7,775,9.5,790,9,800,9,
6,3,8,2.8,30,3.5,38,1.9,42,2.4,50,3.2,65,1.5,75,2.4,90,3,115,2,125,3,150,4,188,3.1,240,2.8,240,2.2,262,2.7,258,2.4,310,2.6,325,1.7,345,3.5,378,3.1,420,3.6,433,1.6,448,3,455,3.3,505,2.3,508,2.6,515,3,568,3.2,585,3.1,652,2.7,654,3.4,664,3.9,728,3.3,738,3.2,772,4.1,700,5,718,5];

const fsi4Dots=[90,49,305,48.5,31,47.1,47,48.2,10,47.9,13,48.1,8,45.5,12,45.6,36,45.7,104,46.7,98,46.7,116,47.4,180,46.3,188,46.7,237,46.4,250,45.7,448,46.3,518,46.6,532,48.9,533,47.9,532,46.2,660,46.7,587,45.6,747,47.6,89,45.5,90,44.9,64,45,65,44.5,97,44.2,104,44,110,44,146,45.4,146,44,174,44,178,43,182,42.9,186,42.4,198,42.7,118,42.6,13,42.1,55,42.1,88,42,96,42,125,43,145,42.2,270,44,299,42.4,323,42.2,374,42.2,382,42.2,383,45.2,384,43.5,385,42.6,440,42.9,525,43.5,600,44.5,622,42.6,735,44.4,
120,40,126,39.9,130,39.6,125,40.7,137,40.1,63,40.5,32,38.9,48,40,125,39.4,90,40.6,55,38,66,38.8,86,37.9,95,37.4,174,37.7,174,39.5,240,39.7,236,41.8,238,41,235,40.7,246,39.7,258,39.8,240,38.2,247,37.4,253,37.4,258,37,280,37.8,300,37.4,302,40.7,323,39.2,376,40.9,378,37.3,383,39.7,387,39,447,37.8,447,36.6,448,37.6,463,39.3,512,40.8,522,39.7,540,40.8,540,41.5,528,38.9,562,38.2,583,40.7,587,37.7,602,38.9,602,38.2,655,40.5,663,40.9,662,37,660,36.6,740,37.4,748,38.2,755,40.8,770,36.1,
7,39.9,8,39.5,6,35.4,14,35.4,10,31,2,30.7,14,30.6,33,35.4,42,36.3,48,36,54,35,90,35.5,98,36.2,115,36.6,130,36.6,126,34.5,130,33.8,150,34.4,147,35.3,175,35.5,180,34.5,178,33.7,186,36.3,235,35.3,237,33.5,246,35.5,253,34.6,280,33,298,35,297,33.3,305,34,318,34.3,320,35.7,338,35,378,34.5,390,35.4,445,33.8,450,33.3,510,35.3,515,34.5,585,35,603,36.8,650,32,655,32.3,660,34.8,667,34.4,735,32.4,745,33.9,
20,30,40,33,55,34,62,34.5,70,33.5,80,31.5,110,31.5,122,31,138,31.8,158,31,192,31,230,31.5,240,29,250,31,246,29.2,265,29.8,268,26.8,320,29,380,29,395,30,410,30.5,412,30,425,29.4,490,31.7,485,28.4,520,30.5,540,27,550,27,572,29.5,582,29,620,27,650,26,628,24.5,665,28.5,682,28.5,700,30.2,720,29,765,29,772,29,778,24.6,
28,27.5,45,27,50,26,58,26,75,28,90,28,100,26,110,29,135,29,140,24.5,152,26,165,26.3,190,25,200,25.2,228,24,235,24,250,24,270,23,285,21,262,23.8,325,27.8,340,24.6,350,27,355,24.3,395,21,398,19.5,420,16.5,415,15,470,26,470,22.5,490,22,495,16,540,24.2,555,21,550,18.5,565,20,570,19,600,21,620,21,640,20,660,22,672,25.5,690,24,700,20,715,20.2,735,19,770,23.5,790,8,
20,24,25,20,30,17,58,22,75,21,110,20,120,19,150,21,155,19,164,16,200,20,210,18,218,19,225,19,252,18,262,16,278,15,290,14,295,21,335,20,335,18,350,13,345,9.5,375,10.3,400,13,407,11,428,8.5,430,16.8,470,14.7,478,17.7,495,14,510,12.5,530,13,540,15,565,13,565,8,605,11.5,625,13.5,640,11.8,690,11,700,16.5,728,7,765,14,775,14,780,10,
2,14,18,13,30,5.6,8,2.3,10,2.5,30,2,35,4.6,62,1.6,63,2.2,100,1.3,120,3.1,135,2.5,160,3.2,170,3.8,200,4,235,2.9,238,3.2,296,2.3,340,5.7,370,1.5,378,3.5,405,4.7,435,4,441,2.6,450,3.7,462,3.8,460,5.5,510,5.2,535,4.1,580,3,588,2.4,590,3.6,620,7.8,658,3.2,680,3.5,695,6.2,705,6.5,727,5.9,730,3.7,745,3.2,750,5];

const fpg1Dots=[370,24.3,240,20.9,91,21.2,7,21.2,0,20.4,7,20.6,3,20,15,20,36,20,36,19.4,41,20.7,63,20.1,125,19.9,238,19.4,305,18.6,373,17.7,386,19,443,19.1,452,18.9,517,18.4,525,19.8,583,19,594,20.1,603,20.3,660,17,668,17,745,19,750,19.1,755,17.7,
2,18.5,2,18,0,17,5,16,10,17.6,14,17.3,20,16.5,22,16,34,16.8,42,16.9,50,17,60,16.9,62,18.2,66,18.2,69,17.9,57,16.4,62,16,68,16.2,80,15.4,98,17,100,17.3,88,15.9,100,15.6,100,14.5,118,15,118,18,125,17.7,120,16.7,133,15,135,14.6,130,13.3,
174,16.4,185,15.5,188,17.5,178,14,187,14.4,192,13,200,14,202,13,188,15,207,12.5,216,12,230,14.4,236,16.4,240,15.7,248,15.3,245,15,240,14,255,12.8,
303,16,308,16.4,315,16,300,14.9,308,14.7,325,15,320,13.8,302,18.6,306,18,362,14,335,11,328,10.5,
370,15.7,378,16.6,380,16.2,386,15.3,380,14.6,395,13.8,408,12.4,395,11,380,13.6,
440,15.4,442,14,448,14.8,455,16.4,456,17,462,14.2,470,14.1,442,13.3,456,13.8,468,11.5,
505,15.3,510,16,512,17.1,516,16,525,15,535,15.3,540,15.3,524,14.6,548,14.9,512,13.5,528,11.4,
579,16,582,17.5,590,15.4,596,17.6,598,16,605,16.8,585,14.7,597,12.5,610,11.7,
648,14.3,655,15.3,658,16,660,17.1,655,13.6,663,14,670,13.9,680,12,688,11.8,
727,15.3,733,16.3,738,16.6,745,16.3,750,15.4,757,15.1,760,14.8,745,14,730,12,
5,5.7,0,5.8,14,4.6,15,6.3,20,7.6,36,5.9,41,4.6,41,3.5,41,3.4,60,5.5,68,4.1,68,3.6,72,5.2,94,4.2,96,3.9,120,3.6,124,3.9,118,5,128,5.2,136,4.8,122,4.8,
130,7,150,8,155,9,160,7,175,5.8,180,4.2,188,5,203,5,205,8,222,5.9,235,5,237,4.3,241,4,258,5.6,270,5.6,285,5.5,290,6,300,5,308,4.9,327,5,330,8,340,9,
368,5.5,375,4.6,382,4.6,385,6,395,7.8,402,8,412,7.8,440,4.6,450,5,448,4.5,455,4.4,460,7,470,6.1,495,5.6,510,4.6,515,3.8,520,3.8,530,5,548,8.8,565,6.5,590,4.6,595,3.4,585,5,580,7,615,5.9,
645,5.4,652,4.4,656,4,660,5.5,665,6,700,8.5,725,8.8,730,4.7,735,3.8,734,3.3,745,5.8,750,4.9,756,4.9,780,8,
2,13,3,10,0,7,6,7,20,11,24,9,30,13,47,13,50,9,55,11,62,12,80,10,84,9,108,12,112,8,140,10,146,9.5,170,11,165,9,200,10,212,9,262,11,268,10.7,258,12.8,270,9,280,9,285,11,330,10,345,9,352,8.5,355,9.5,402,10,420,12,430,11,425,9,470,10,475,11.5,480,8,545,11,550,9,555,10,615,8.5,640,9,690,10,698,8.5,770,11,765,8,775,7.5];

const fpg2Dots=[6,25.8,0,24.2,0,22,10,20.7,0,19.6,14,19.6,200,19.7,215,19.3,180,19.3,175,18.5,235,21.7,312,22.9,314,20.8,385,20.3,440,22.5,505,21.8,670,22,360,18.6,520,18.8,595,19,655,18.5,678,18.9,730,18.5,742,19.2,738,18.3,
5,18,8,17.4,2,17,10,16.5,4,15.8,14,18.3,42,18.4,45,17.8,38,17.1,42,16.9,48,16.4,34,16.2,62,17,60,16.3,65,16.2,70,19.1,70,18.6,70,17.9,70,17.1,75,15.4,88,15.6,93,17.2,98,17,100,15.1,93,15,117,15.9,128,15.3,132,14.6,138,16,165,16.8,132,18.8,
174,16.2,178,15.7,188,15.7,196,15.7,180,14.5,194,14.9,188,13.9,196,14.3,200,12.6,173,13,190,13.3,
232,16.3,235,16.5,238,15.3,243,15.6,225,14.5,234,14.2,240,13.8,252,12,
302,15.6,305,15.3,303,17,308,16.8,320,16.8,318,14.5,310,14.5,300,13.6,315,13,320,13.2,335,12.4,
374,18.6,372,17.8,372,17.3,372,16.6,378,16.6,378,16.2,378,15.2,375,14.8,382,14.3,405,16,395,13,
440,16,445,15.9,445,15.4,432,14.2,440,13.9,450,13.7,460,14.2,470,13.4,
505,14.3,510,15.8,520,15.5,514,15,522,15.2,525,14,540,14.5,535,15.7,525,13.2,
585,17,588,17.1,582,16.2,578,15,590,14.6,598,14.5,608,14.7,
650,15.1,652,16.6,660,15.2,655,18.1,670,15.4,688,13.1,688,11.5,640,12.8,
735,17.2,740,16.5,738,15.5,742,15.4,748,15.6,740,14.8,755,14,765,12.4,715,16.5,
0,4.9,15,4.3,8,6.3,38,4.9,48,5.8,44,6.3,68,5.7,70,5,70,3.5,86,5,92,4.4,100,4.1,102,6,118,4.5,124,4.1,125,3.5,130,5.5,145,6.9,
172,6,178,4.2,188,5.5,195,5.3,205,7.5,212,8.6,215,6.9,228,5,235,4.1,238,4,250,6.2,265,7.8,270,6.9,285,5.7,300,3.9,305,4.5,335,6.1,308,5.6,
360,8,373,3.5,375,3.3,382,4.5,388,2.9,385,5.3,420,8.5,440,3.7,445,3.7,450,4,455,4.3,485,7,500,7.1,505,5.2,510,4,515,4.5,520,4.8,528,5.3,575,5.7,585,3.8,590,4.7,
640,6.2,652,5,655,4.2,665,4.2,668,5.8,725,8.5,735,4.1,742,4.5,745,5,750,4.7,760,6.6,
3,12,3,9,0,7,18,14,22,12,25,9,52,12,60,10,82,11,85,8,110,12,112,9,140,13,145,10,150,12,165,9,170,10,200,9,205,12,215,10,258,10,262,9,268,11,330,10,345,12.4,352,9.5,355,8.6,360,11.5,395,10,405,9,430,8,465,10,470,9,540,9,540,12,545,8,570,9,575,8,612,9,620,8,640,9.5,688,9,690,11,720,8.5,760,10.5,765,8.5];

const fpg3Dots=[41,28.6,69,25.9,70,25,7,25.1,41,24,0,23.4,85,23.2,10,22.8,0,21.8,0,21,12,21.2,0,20.7,45,21,313,21.1,280,20.2,470,20.7,517,20.6,660,21.1,0,20,10,20.5,17,20.6,24,20.4,35,20.2,14,20,40,19.6,43,20,47,19.6,50,19.5,68,20.7,238,20,244,19.5,230,19.4,305,19.2,440,19.6,738,19.6,0,19.2,0,18.8,0,18,60,19,70,18,160,19,180,18.4,184,19.1,182,18,362,18.9,372,18.9,373,18.8,447,18.9,450,17.4,510,18.3,580,18.3,594,17.5,615,18.7,125,18.7,95,18.9,90,18.8,125,18.2,130,17.7,
2,17,4,16,16,17.4,28,17.4,40,18,36,17,35,16.5,60,17,62,16,72,17,78,16.7,84,16,95,17,93,16.9,100,16,112,16,128,16,135,15.6,140,15.8,
175,16.5,182,15.7,186,15.7,190,15,175,15,172,14.5,178,14.5,186,17.3,238,16.7,244,16.7,232,15,240,15.5,250,15.5,255,14.5,258,14,228,14.8,
300,15,303,16.7,305,17.5,310,16.3,315,16.3,318,15.5,320,14.8,290,14.9,
362,15,372,15,375,15,378,17,384,16.2,385,15.8,395,14.5,372,16.9,375,17.8,
435,17.9,438,17,444,17.2,450,17.2,433,16.2,456,17.4,440,15.2,448,15.1,450,15,458,14.7,415,16.7,
495,16,505,15.3,510,15.3,512,15,518,16.5,525,14.2,528,17.2,534,14.6,540,14.5,
565,16.4,572,15.6,584,16,585,17.2,590,17.5,605,14.9,597,14.9,590,14,570,14.1,
637,17.6,650,17.6,662,17.2,680,17.4,650,14.5,665,15.5,660,15.2,670,15.5,
726,17.3,728,16.9,735,16.6,742,16.4,745,15.4,732,15.4,738,14.7,720,14.5,
2,8,4,6.6,8,6.7,12,5.5,20,6.2,36,6.3,38,6,45,5.9,58,6.2,62,5.1,72,7,82,6.5,87,6,90,5.2,105,5.7,112,6,122,5,130,5.1,145,5,130,6.3,160,5.6,180,4.8,192,5.7,200,7,215,5.1,230,4.7,238,6,255,6,262,5.5,282,5.6,285,5.3,
303,6.5,312,5.7,320,6.4,325,5.8,338,6.4,340,7,378,2.4,372,6,385,6,400,5.5,440,6.8,448,5.7,462,5.9,490,5.7,500,5.7,510,2.6,515,5.2,525,5.7,535,5.8,568,5.7,580,5.7,590,5.7,625,5.7,660,3.1,655,6,672,6.3,
735,6,742,5.5,728,6.2,728,5.1,760,5.8,
140,10,145,8,152,11,158,12.5,165,9,170,7.5,205,9,212,11,220,8,258,11,265,12,268,10,272,9,278,7.5,290,8.5,335,11,338,9,345,10.5,350,8.5,355,7.5,
400,10.5,410,9,420,8,425,10,432,7,470,8.5,478,11.7,480,7.5,490,8,500,8.2,540,10,550,11,548,8,555,7,570,9,578,8,612,9,625,8,640,9.5,650,8,690,12,700,8.5,715,7,720,9.5,760,10,775,13.9,765,8,772,7,790,8.9,800,9,785,7.5];

const fpg4Dots=[0,24.2,70,23.9,90,22.1,659,23.7,13,20.9,43,20.9,45,21.7,118,21.4,455,21.7,0,20.2,10,20.6,33,20,2,19.8,14,19.3,20,18.9,18,18.8,45,18.2,60,18,76,18,150,19.2,95,17.7,100,17.7,652,19.5,660,19.2,668,18.8,310,18.8,375,18.5,380,18.3,388,18.1,395,17.8,448,18.5,445,18.4,435,18,510,19.2,520,18.8,528,19,518,18.5,565,18.6,737,19.7,745,19.7,737,18.9,230,18.5,240,18.4,195,16,
2,17.5,3,16.5,10,17.8,15,16.2,30,16,32,15,40,15.5,55,14.4,68,16,70,15.8,62,14.2,75,14.9,70,14.5,90,14,98,16,100,17.2,118,14.2,122,15.7,125,15.6,125,17.1,130,14.3,135,17.3,145,14.2,160,14.2,
172,17.3,175,17,175,16.3,180,16.2,188,16,190,15.3,180,15,170,15,175,14.5,183,14.8,202,15.5,215,16.2,232,16.6,237,16.5,245,17,245,16.4,258,17.5,240,15.9,230,15.5,240,15,258,15.1,258,14.3,252,14,
295,16.3,300,15.3,305,17.7,312,17.2,315,18.2,320,17,320,16.5,330,16.2,310,15.8,318,14.8,298,14.8,322,14.7,340,12.4,345,12.5,
358,15.6,370,15.4,378,15.5,372,14.7,375,17.2,380,17.2,385,16.7,390,14.8,356,14.6,400,14.1,415,12.6,
438,16.3,444,16.5,452,16.1,455,15.9,456,14.5,448,15,430,13.8,462,13,
515,17.9,520,17.2,525,16.5,520,15.5,525,15.4,530,14,552,13.4,510,13.5,
580,15.5,585,17.6,590,17.6,585,17.1,600,16.1,595,15.5,625,16.2,640,14,620,13.8,
658,17.3,652,16.7,660,15.4,660,14.8,664,14.2,672,14,690,13,700,13,
727,15.9,735,16.5,742,17,745,17,755,15.6,760,17.4,770,16.4,775,13.9,750,14.3,795,12.9,
2,6.3,5,6.5,15,5.9,40,5,45,4.7,53,3.5,60,5.5,72,4.5,80,5.2,95,4.6,100,4.8,112,5,122,4.3,124,4,132,5.8,
170,6,180,3.9,182,5,190,4.8,200,7.8,208,6.3,215,5.8,240,4.4,245,5.4,250,5.8,270,4.2,268,5.3,285,6.5,300,6.3,305,5.5,308,4.9,315,2.7,322,4.9,
345,4.6,358,5.9,370,5,378,3.5,382,4.7,388,4.5,385,5.5,400,7.5,410,5.4,430,7.5,448,5.5,450,4.5,456,4.4,465,4.8,468,5.9,520,3.8,522,3.5,518,4.7,510,5.3,540,6,550,6,580,5.8,585,2.8,592,3,590,5.7,615,5.2,
640,6.5,645,4.7,655,7,658,4.3,665,6,725,5.1,732,6.5,738,5.5,740,4.7,752,4.7,757,5.5,
20,12,25,10,52,11,52,9,80,11,85,9,88,7,108,13,112,9,140,12,150,10,158,8,165,9,168,11,165,6,200,10,205,8.5,212,12.5,218,9,258,11,262,9,268,8.5,275,12,285,11,330,8,338,10,
345,8,352,10,405,10,410,8,425,9,420,12,430,7,470,8.5,475,11,485,9,490,10.5,495,7.5,500,7.7,505,12,510,7,550,11,555,9,560,8,565,13,600,11,605,8.5,620,7.5,630,10,640,11,645,8,690,10,695,12,700,8.5,710,8,720,11.9,725,7.5,770,9.5,775,11.5,780,9.5,790,10,762,8];

const panels=[
 {n:"FSI (mIU/L)",l:110,t:1,up:fsi1Up,lo:fsi1Lo,line:fsi1Line,mean:fsi1Mean,core:fsi1Core,dense:fsi1Dense,dots:fsi1Dots,c:"#808080",lw:4},
 {n:"FSI (mIU/L)",l:884.5,t:1,up:fsi2Up,lo:fsi2Lo,line:fsi2Line,mean:fsi2Mean,core:fsi2Core,dense:fsi2Dense,dots:fsi2Dots,c:"#666666",lw:3,yellow:1},
 {n:"FSI (mIU/L)",l:1667,t:1,up:fsi3Up,lo:fsi3Lo,line:fsi3Line,mean:fsi3Mean,core:fsi3Core,dense:fsi3Dense,dots:fsi3Dots,c:"#808080",lw:4},
 {n:"FSI (mIU/L)",l:2447,t:1,up:fsi4Up,lo:fsi4Lo,line:fsi4Line,mean:fsi4Mean,core:fsi4Core,dense:fsi4Dense,dots:fsi4Dots,c:"#808080",lw:4},
 {n:"FPG (mmol/L)",l:110,t:0,up:fpg1Up,lo:fpg1Lo,line:fpg1Line,mean:fpg1Mean,core:fpg1Core,dense:fpg1Dense,dots:fpg1Dots,c:"#808080",lw:3},
 {n:"FPG (mmol/L)",l:884.5,t:0,up:fpg2Up,lo:fpg2Lo,line:fpg2Line,mean:fpg2Mean,core:fpg2Core,dense:fpg2Dense,dots:fpg2Dots,c:"#808080",lw:3},
 {n:"FPG (mmol/L)",l:1667,t:0,up:fpg3Up,lo:fpg3Lo,line:fpg3Line,mean:fpg3Mean,core:fpg3Core,dense:fpg3Dense,dots:fpg3Dots,c:"#808080",lw:3},
 {n:"FPG (mmol/L)",l:2447,t:0,up:fpg4Up,lo:fpg4Lo,line:fpg4Line,mean:fpg4Mean,core:fpg4Core,dense:fpg4Dense,dots:fpg4Dots,c:"#808080",lw:3}
];
const box=document.getElementById("c");
const W=641.5,H=510,ml=110,mt=4,mb=100;
function draw(p){
 const pts=[];for(let i=0;i<p.dots.length;i+=2)pts.push({x:p.dots[i],y:p.dots[i+1]});
 p.dense.forEach((row,v)=>row.forEach((y,j)=>pts.push({x:Math.max(0,visits[v]-2+spreadDays[j%spreadDays.length]),y})));
 const band=bandX.map((x,i)=>({x,lo:p.lo[i],up:p.up[i]}));
 const line=lineX.map((x,i)=>({x,y:p.line[i]}));
 const mx=p.t?visits:visitsBase;
 const mean=mx.map((x,i)=>({x,y:p.mean[i]}));
 const core=visits.map((x,i)=>({x:x-2,a:p.core[i][0],b:p.core[i][1]}));
 const yellow=yellowX.map((x,i)=>({x,a:yellowLo[i],b:yellowHi[i]}));
 const major=p.t?[0,10,20,30,40,50]:[0,5,10,15,20,25,30];
 const minor=p.t?[5,15,25,35,45]:[2.5,7.5,12.5,17.5,22.5,27.5];
 const fam="Liberation Sans";
 const svg=Plot.plot({width:W+ml+40,height:H+mt+mb,marginLeft:ml,marginRight:40,marginTop:mt,marginBottom:mb,
  style:{background:"transparent",overflow:"visible"},
  x:{domain:[-10.5,800],range:[ml,ml+W],axis:null},
  y:p.t?{domain:[-1.02,51.02],range:[mt+H,mt],axis:null}:{domain:[0,30],range:[mt+H,mt],axis:null},
  marks:[
   Plot.areaY(band,{x:"x",y1:"lo",y2:"up",fill:"#c0c0c0"}),
   p.yellow?Plot.areaY(yellow,{x:"x",y1:"a",y2:"b",fill:"#ffff00",curve:"catmull-rom"}):null,
   Plot.ruleX(core,{x:"x",y1:"a",y2:"b",stroke:p.c,strokeWidth:9}),
   Plot.dot(pts,{x:"x",y:"y",r:p.t?2.9:2.6,fill:p.c,stroke:null}),
   Plot.dot(mean,{x:"x",y:"y",r:7.5,symbol:"diamond2",fill:"#fff",stroke:null}),
   Plot.line(line,{x:"x",y:"y",stroke:"#000080",strokeWidth:p.lw}),
   Plot.frame({stroke:"#000",strokeWidth:2}),
   Plot.axisX({ticks:xTicks,tickSize:8,tickPadding:14,fontSize:20,fontFamily:fam,label:null,tickFormat:d=>d,color:"#000"}),
   Plot.axisY({ticks:major,tickSize:7,tickPadding:7,fontSize:20,fontFamily:fam,label:null,tickFormat:d=>d,color:"#000"}),
   Plot.axisY({ticks:minor,tickSize:4,tickFormat:null,label:null,text:null}),
   Plot.text(["Time (days)"],{frameAnchor:"bottom",dy:66,fontSize:24,fontWeight:700,fontFamily:fam,fill:"#000"}),
   Plot.text([p.n],{frameAnchor:"left",dx:-55,rotate:-90,textAnchor:"middle",fontSize:33.7,fontWeight:700,fontFamily:fam,fill:"#000"})
  ]});
 svg.style.left=(p.l-ml)+"px";svg.style.top=((p.t?44:721)-mt)+"px";
 box.appendChild(svg);
 svg.querySelectorAll("text").forEach(t=>{
  const s=t.textContent;
  if(/^\d+$/.test(s)||s.startsWith("Time")){
   t.setAttribute("textLength",t.getComputedTextLength()*0.82);
   t.setAttribute("lengthAdjust","spacingAndGlyphs");
  }
 });
 svg.querySelectorAll('g[aria-label="y-axis tick label"] text').forEach(t=>t.setAttribute("dy","0.42em"));
}
panels.forEach(draw);
titles.forEach(([a,b,x])=>{
 [[a,1316],[b,1411]].forEach(([s,y])=>{
  const d=document.createElement("div");d.className="t";d.textContent=s;d.style.left=x+"px";d.style.top=y+"px";box.appendChild(d);
 });
});
</script></body></html>
